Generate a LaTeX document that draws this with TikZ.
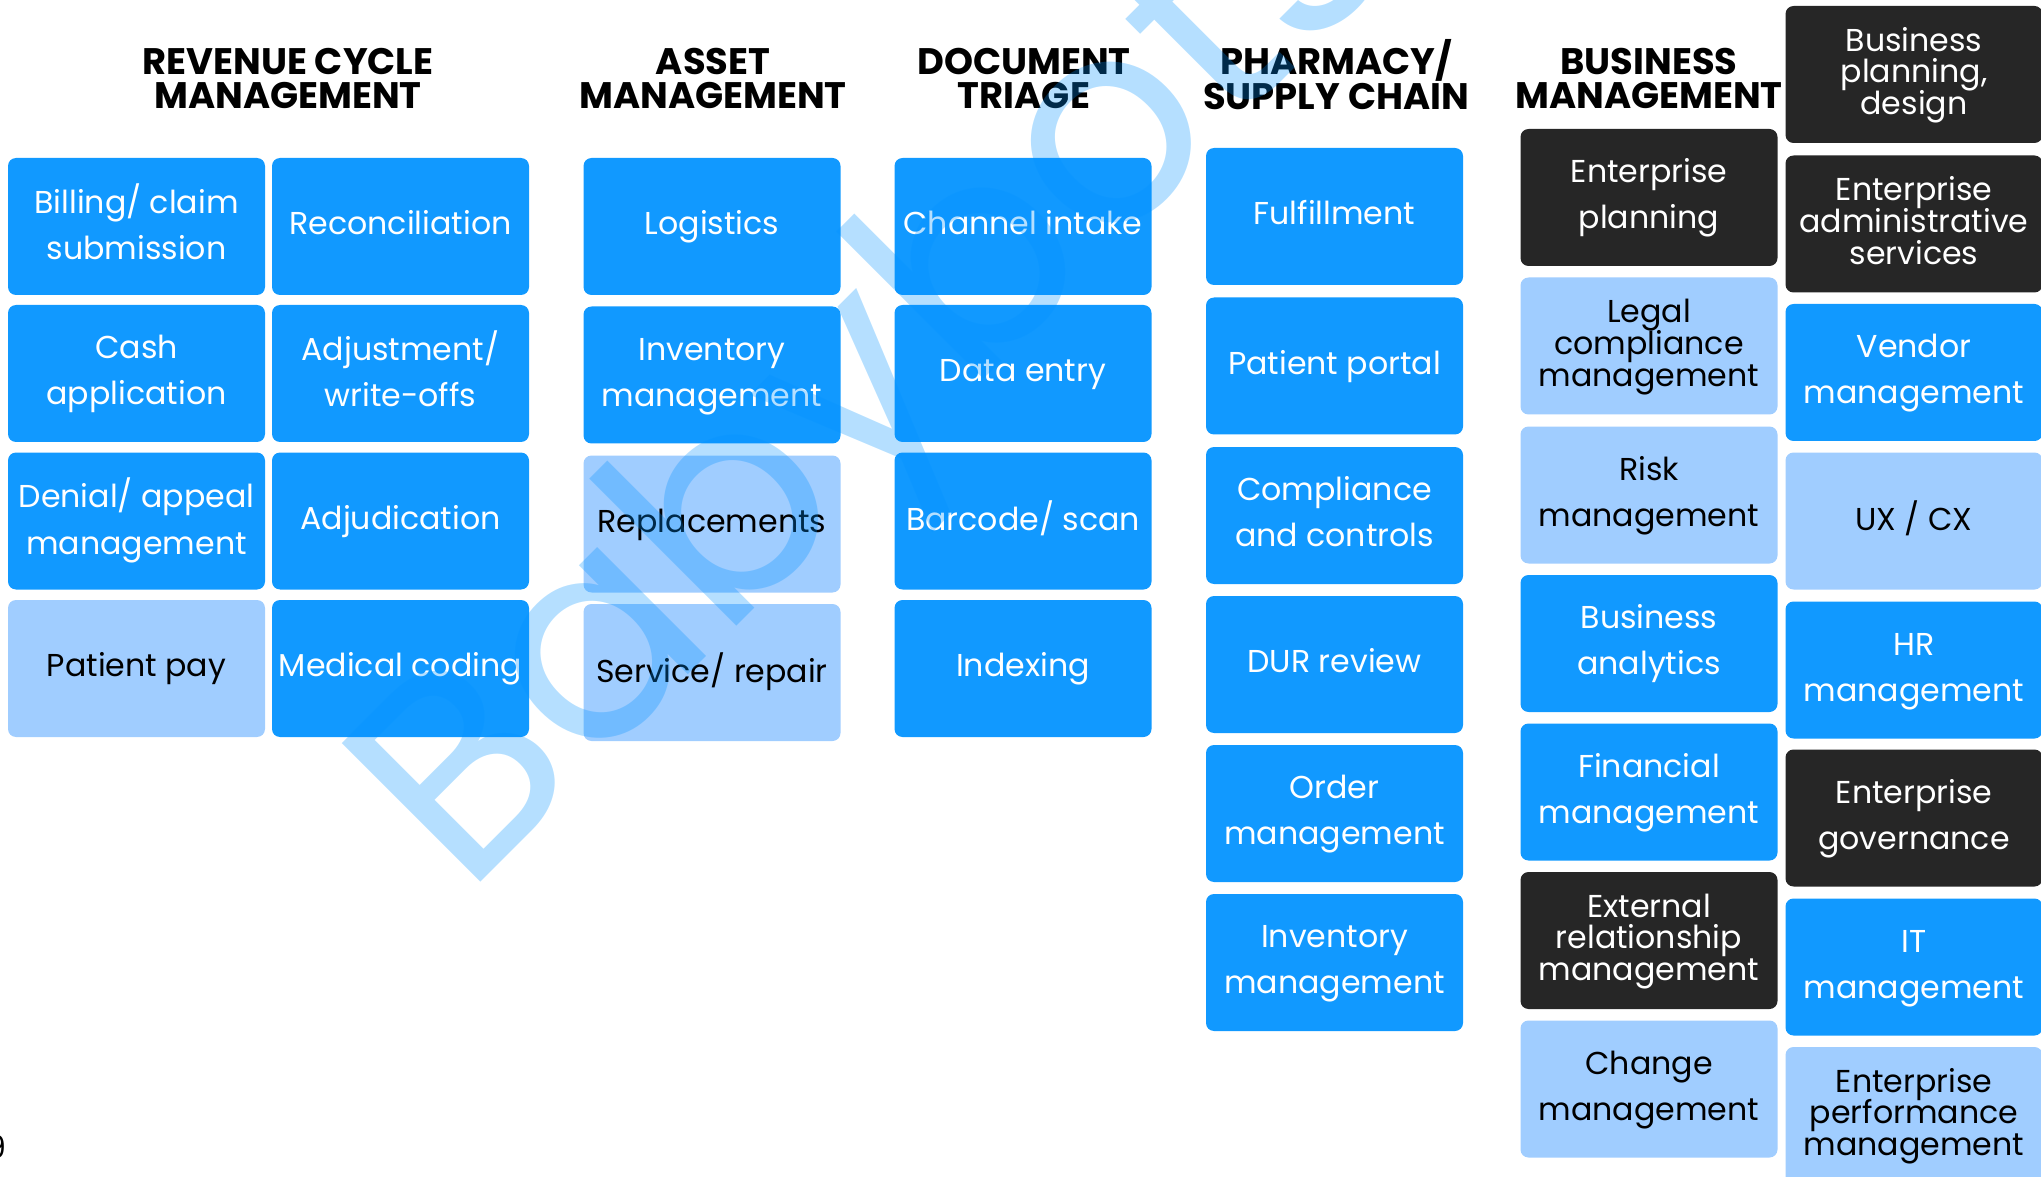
\documentclass[tikz,border=0pt]{standalone}
\usepackage{fontspec}
\setmainfont{Poppins}
\usetikzlibrary{positioning}
\definecolor{TileBlue}{RGB}{17,153,255}
\definecolor{TilePale}{RGB}{160,205,255}
\definecolor{TileInk}{RGB}{38,38,38}
\definecolor{MarkBlue}{RGB}{0,146,255}
% fixed line heights so every tile and head centres its text alike
\newcommand{\ts}{\rule[-2.8pt]{0pt}{10.4pt}}
\newcommand{\hs}{\rule[-2pt]{0pt}{11.5pt}}

\tikzset{
  tile/.style={rectangle,rounded corners=0.8mm,minimum width=25.7mm,minimum height=13.7mm,
    inner sep=0pt,align=center,fill=TileBlue,text=white,font=\fontsize{9}{13.1}\selectfont},
  pale/.style={fill=TilePale,text=black},
  ink/.style={fill=TileInk,text=white},
  tight/.style={font=\fontsize{9}{9.0}\selectfont},
  head/.style={align=center,inner sep=0pt,font=\fontsize{10.5}{9.7}\selectfont\bfseries}
}

\begin{document}
\lineskiplimit=-5pt
\begin{tikzpicture}[x=0.1mm,y=-0.1mm]
  \useasboundingbox (0,0) rectangle (2041,1177);

  % column heads
  \node[head] (hdRev) at (288,78) {\hs REVENUE CYCLE\\MANAGEMENT\hs};
  \node[head] (hdAsset) at (713,78) {\hs ASSET\\MANAGEMENT\hs};
  \node[head] (hdDoc) at (1024,78) {\hs DOCUMENT\\TRIAGE\hs};
  \node[head] (hdPharm) at (1336,78) {\hs PHARMACY/\\SUPPLY CHAIN\hs};
  \node[head] (hdBiz) at (1649,78) {\hs BUSINESS\\MANAGEMENT\hs};

  % revenue cycle, two columns
  \node[tile] (rev1) at (136.5,226.5) {\ts Billing/ claim\\submission\ts};
  \node[tile] (rev2) at (136.5,373.5) {\ts Cash\\application\ts};
  \node[tile] (rev3) at (136.5,521) {\ts Denial/ appeal\\management\ts};
  \node[tile,pale] (rev4) at (136.5,668.5) {\ts Patient pay\ts};
  \node[tile] (rev5) at (400.5,226.5) {\ts Reconciliation\ts};
  \node[tile] (rev6) at (400.5,373.5) {\ts Adjustment/\\write-offs\ts};
  \node[tile] (rev7) at (400.5,521) {\ts Adjudication\ts};
  \node[tile] (rev8) at (400.5,668.5) {\ts Medical coding\ts};

  % asset management
  \node[tile] (ast1) at (712,226.5) {\ts Logistics\ts};
  \node[tile] (ast2) at (712,375) {\ts Inventory\\management\ts};
  \node[tile,pale] (ast3) at (712,524) {\ts Replacements\ts};
  \node[tile,pale] (ast4) at (712,672.5) {\ts Service/ repair\ts};

  % document triage
  \node[tile] (doc1) at (1023,226.5) {\ts Channel intake\ts};
  \node[tile] (doc2) at (1023,373.5) {\ts Data entry\ts};
  \node[tile] (doc3) at (1023,521) {\ts Barcode/ scan\ts};
  \node[tile] (doc4) at (1023,668.5) {\ts Indexing\ts};

  % pharmacy / supply chain
  \node[tile] (ph1) at (1334.5,216.5) {\ts Fulfillment\ts};
  \node[tile] (ph2) at (1334.5,366) {\ts Patient portal\ts};
  \node[tile] (ph3) at (1334.5,515.5) {\ts Compliance\\and controls\ts};
  \node[tile] (ph4) at (1334.5,664.5) {\ts DUR review\ts};
  \node[tile] (ph5) at (1334.5,813.5) {\ts Order\\management\ts};
  \node[tile] (ph6) at (1334.5,962.5) {\ts Inventory\\management\ts};

  % business management, inner column
  \node[tile,ink] (biz1) at (1649,197.5) {\ts Enterprise\\planning\ts};
  \node[tile,pale,tight] (biz2) at (1649,346) {\ts Legal\\compliance\\management\ts};
  \node[tile,pale] (biz3) at (1649,495) {\ts Risk\\management\ts};
  \node[tile] (biz4) at (1649,643.5) {\ts Business\\analytics\ts};
  \node[tile] (biz5) at (1649,792) {\ts Financial\\management\ts};
  \node[tile,ink,tight] (biz6) at (1649,940.5) {\ts External\\relationship\\management\ts};
  \node[tile,pale] (biz7) at (1649,1089) {\ts Change\\management\ts};

  % business management, outer column
  \node[tile,ink,tight] (biz8) at (1914,74.5) {\ts Business\\planning,\\design\ts};
  \node[tile,ink,tight] (biz9) at (1914,224) {\ts Enterprise\\administrative\\services\ts};
  \node[tile] (biz10) at (1914,372.5) {\ts Vendor\\management\ts};
  \node[tile,pale] (biz11) at (1914,521) {\ts UX / CX\ts};
  \node[tile] (biz12) at (1914,670) {\ts HR\\management\ts};
  \node[tile,ink] (biz13) at (1914,818) {\ts Enterprise\\governance\ts};
  \node[tile] (biz14) at (1914,967) {\ts IT\\management\ts};
  \node[tile,pale,tight] (biz15) at (1914,1115.5) {\ts Enterprise\\performance\\management\ts};

  % page number and watermark on top
  \node[anchor=base east,inner sep=0pt,font=\fontsize{9}{11}\selectfont] (pgno) at (7,1158) {9};
  \node[anchor=base west,inner sep=0pt,rotate=45,text=MarkBlue,text opacity=0.29,
    font=\fontsize{80}{80}\selectfont] (mark) at (465,898) {Babybots};
\end{tikzpicture}
\end{document}
